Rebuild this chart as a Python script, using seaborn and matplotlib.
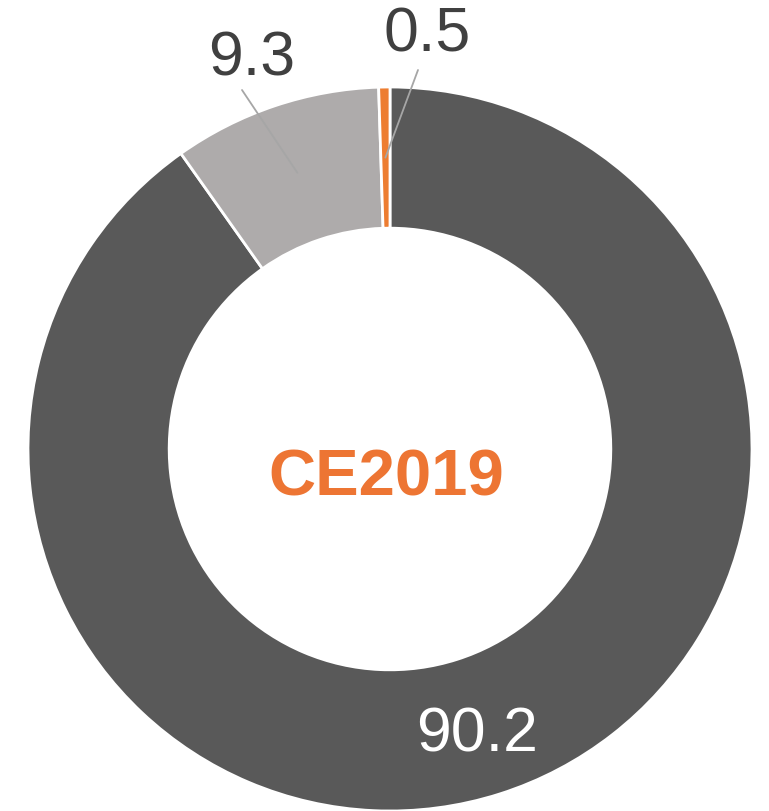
import numpy as np
import matplotlib
matplotlib.use("Agg")
import matplotlib.pyplot as plt
import seaborn as sns

segments = ["Main", "Other", "Small"]
values = [90.2, 9.3, 0.5]
value_labels = ["90.2", "9.3", "0.5"]
colors = ["#595959", "#AEABAB", "#ED7D31"]
center_text = "CE2019"

sns.set_style("white")
plt.rcParams['font.family'] = ['Liberation Sans', 'DejaVu Sans']

W, H = 769, 811
R_PX = 362.0          # outer radius in pixels
CX, CY = 390.0, 449.0  # donut centre (pixels, from top-left)


def to_data(px, py):
    return (px - CX) / R_PX, (CY - py) / R_PX


fig = plt.figure(figsize=(W / 100, H / 100), dpi=100)
ax = fig.add_axes([0, 0, 1, 1])

wedges, _ = ax.pie(values, colors=colors, startangle=90, counterclock=False,
                   radius=1.0,
                   wedgeprops=dict(width=0.39, edgecolor="white", linewidth=2))

ax.set_xlim(-CX / R_PX, (W - CX) / R_PX)
ax.set_ylim(-(H - CY) / R_PX, CY / R_PX)
ax.set_aspect("equal")
ax.axis("off")

# label placement (centre x, baseline y in pixels) and leader line end points
label_pos = {"90.2": (477, 752), "9.3": (252, 75), "0.5": (427, 52)}
line_top = {"9.3": (242, 90), "0.5": (418, 70)}

for w, lab in zip(wedges, value_labels):
    mid = np.deg2rad((w.theta1 + w.theta2) / 2)
    r = 0.805
    mx, my = r * np.cos(mid), r * np.sin(mid)
    tx, ty = to_data(*label_pos[lab])
    if lab == "90.2":
        ax.text(tx, ty, lab, ha="center", va="baseline", fontsize=45, color="white")
    else:
        lx, ly = to_data(*line_top[lab])
        ax.plot([mx, lx], [my, ly], color="#A6A6A6", linewidth=1.3)
        ax.text(tx, ty, lab, ha="center", va="baseline", fontsize=45, color="#404040")

cx, cy = to_data(386, 495)
ax.text(cx, cy, center_text, ha="center", va="baseline", fontsize=47,
        fontweight="bold", color="#ED7533")

fig.savefig("out.png", dpi=100)
